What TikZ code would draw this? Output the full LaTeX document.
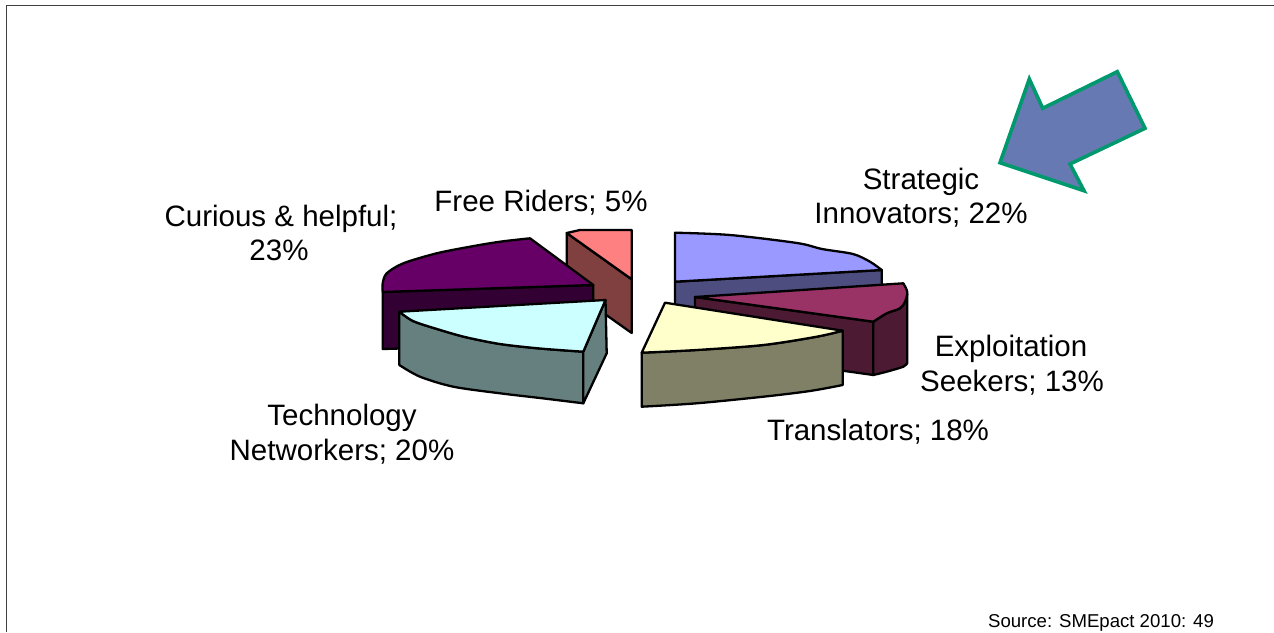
\documentclass[tikz,border=0pt]{standalone}
\usepackage{fontspec}
\setmainfont{Liberation Sans}
\newcommand{\lblfont}{\fontsize{29.5}{34}\selectfont}
\newcommand{\srcfont}{\fontsize{18.6}{22}\selectfont}
\definecolor{pinkTop}{HTML}{FF8080}
\definecolor{pinkSide}{HTML}{804040}
\definecolor{purTop}{HTML}{660066}
\definecolor{purSide}{HTML}{330033}
\definecolor{cyTop}{HTML}{CCFFFF}
\definecolor{cySide}{HTML}{668080}
\definecolor{blTop}{HTML}{9999FF}
\definecolor{blSide}{HTML}{4D4D80}
\definecolor{mgTop}{HTML}{993366}
\definecolor{mgSide}{HTML}{4D1A33}
\definecolor{yeTop}{HTML}{FFFFCC}
\definecolor{yeSide}{HTML}{808066}
\definecolor{arrFill}{HTML}{6679B3}
\definecolor{arrEdge}{HTML}{00996E}
\definecolor{frameGray}{HTML}{404040}
\tikzset{
  face/.style={draw=black,line width=2.3pt,line join=round},
  lbl/.style={anchor=base,font=\lblfont,inner sep=0pt,text=black},
  src/.style={anchor=base,font=\srcfont,inner sep=0pt,text=black}
}
\begin{document}
\begin{tikzpicture}[x=1pt,y=-1pt]
\useasboundingbox (0,0) rectangle (1274,632);
\fill[white] (0,0) rectangle (1274,632);
% frame
\draw[frameGray,line width=1.5pt] (6.5,632) -- (6.5,5.5) -- (1274,5.5);

% Free Riders
\filldraw[face,fill=pinkSide] (566.7,233) -- (631.7,279.3) -- (631.7,333) -- (566.7,287) -- cycle;
\filldraw[face,fill=pinkTop] (566.7,233) -- (580,230) -- (631.7,230) -- (631.7,279.3) -- cycle;

% Curious & helpful
\filldraw[face,fill=purSide] (382.7,292) -- (593.3,285) -- (593.3,343) -- (382.7,349) -- cycle;
\filldraw[face,fill=purTop] (593.3,285) -- (530,238.3)
  -- plot[smooth] coordinates {(530,238.3) (500,241.7) (470,246.7) (436.7,253.3) (403.3,263.3) (386.7,273.3) (382.7,283.3) (382.7,292)} -- cycle;

% Technology Networkers
\filldraw[face,fill=cySide] plot[smooth] coordinates {(399.3,311.7) (413,321) (437,329) (465,337) (500,344) (540,348.5) (583.3,351.7)}
  -- (583.3,403.3) -- plot[smooth] coordinates {(583.3,403.3) (540,398) (500,393.3) (453.3,386.7) (420,376.7) (399.3,365)} -- cycle;
\filldraw[face,fill=cySide] (583.3,351.7) -- (605.5,300) -- (606.7,353.3) -- (583.3,403.3) -- cycle;
\filldraw[face,fill=cyTop] (399.3,311.7) -- (605.5,300) -- (583.3,351.7)
  -- plot[smooth] coordinates {(583.3,351.7) (540,348.5) (500,344) (465,337) (437,329) (413,321) (399.3,311.7)} -- cycle;

% Strategic Innovators
\filldraw[face,fill=blSide] (675,281.7) -- (881.7,270) -- (881.7,322) -- (675,334) -- cycle;
\filldraw[face,fill=blTop] (675,281.7) -- (675,232.7)
  -- plot[smooth] coordinates {(675,232.7) (730,235) (797,243) (822,249) (853,254) (870,261.7) (881.7,270)} -- cycle;

% Exploitation Seekers
\filldraw[face,fill=mgSide] (695,297) -- (873.3,321.7) -- (873.3,375) -- (695,350) -- cycle;
\filldraw[face,fill=mgSide] plot[smooth] coordinates {(873.3,321.7) (886.7,313.3) (900,308.3) (905,301.7) (907.3,294)}
  -- (907.3,363) -- plot[smooth] coordinates {(907.3,363) (903.3,366.7) (886.7,371.7) (873.3,375)} -- cycle;
\filldraw[face,fill=mgTop] (695,297) -- (903.3,283.3)
  -- plot[smooth] coordinates {(903.3,283.3) (907.3,292) (905,301.7) (900,308.3) (886.7,313.3) (873.3,321.7)} -- cycle;

% Translators
\filldraw[face,fill=yeSide] plot[smooth] coordinates {(641.7,352.7) (696.7,350) (763.3,345) (816.7,336.7) (842.7,330.7)}
  -- (842.7,385) -- plot[smooth] coordinates {(842.7,385) (810,391) (763.3,396.7) (696.7,403.3) (641.7,406.7)} -- cycle;
\filldraw[face,fill=yeTop] (665,302.7) -- (842.7,330.7)
  -- plot[smooth] coordinates {(842.7,330.7) (816.7,336.7) (763.3,345) (696.7,350) (641.7,352.7)} -- cycle;

% arrow
\filldraw[fill=arrFill,draw=arrEdge,line width=3.6pt,line join=miter]
  (1000,162.7) -- (1029.3,79) -- (1042.7,108.3) -- (1117.3,71.7) -- (1145,128.3) -- (1070,164) -- (1084,190.7) -- cycle;

% labels
\node[lbl] (strat1) at (921,189) {Strategic};
\node[lbl] (strat2) at (921,223) {Innovators; 22\%};
\node[lbl] (expl1) at (1011,356.5) {Exploitation};
\node[lbl] (expl2) at (1012,391) {Seekers; 13\%};
\node[lbl] (trans) at (878,440) {Translators; 18\%};
\node[lbl] (tech1) at (342,425) {Technology};
\node[lbl] (tech2) at (342,460) {Networkers; 20\%};
\node[lbl] (cur1) at (281,226.5) {Curious \& helpful;};
\node[lbl] (cur2) at (279,260) {23\%};
\node[lbl] (free) at (541,211) {Free Riders; 5\%};
\node[src] (source) at (1101,627) {Source: SMEpact 2010: 49};
\end{tikzpicture}
\end{document}
